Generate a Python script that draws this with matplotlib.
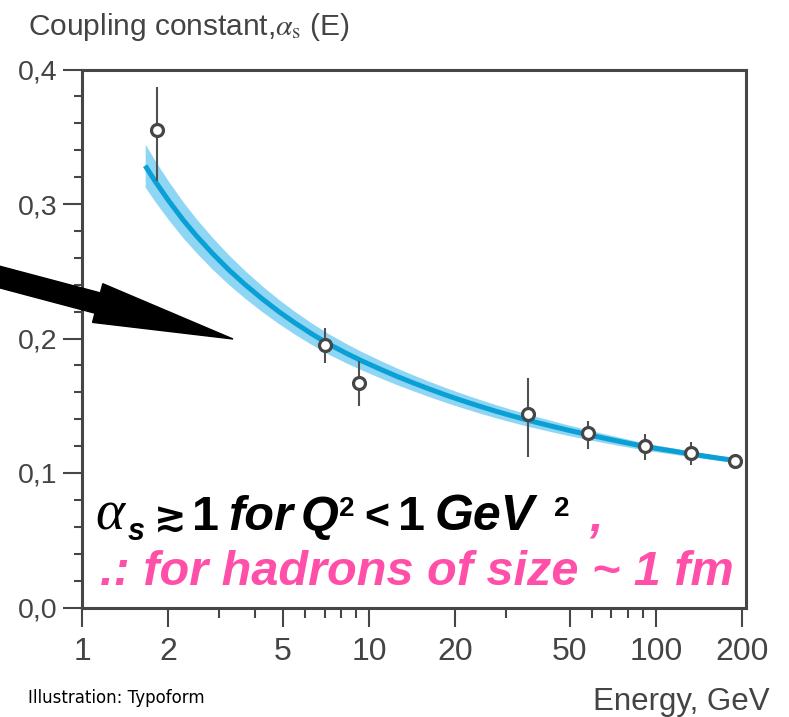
import matplotlib
matplotlib.use('Agg')
import matplotlib.pyplot as plt
from matplotlib.patches import FancyArrow
from matplotlib.ticker import FixedLocator, FuncFormatter, NullFormatter

# ---------------- data ----------------
energy_pts = [1.82, 7.05, 9.25, 35.8, 57.9, 91.9, 132.6, 189.3]
alpha_pts = [0.355, 0.195, 0.167, 0.144, 0.130, 0.120, 0.115, 0.109]
err_low = [0.038, 0.013, 0.017, 0.032, 0.012, 0.010, 0.009, 0.0]
err_high = [0.032, 0.013, 0.016, 0.027, 0.009, 0.009, 0.008, 0.0]

curve_E = [1.66, 1.8, 2.0, 2.25, 2.5, 2.85, 3.25, 3.7, 4.25, 4.85, 5.5, 6.3,
           7.25, 8.3, 9.5, 11.0, 12.5, 14.3, 16.2, 18.5, 21.0, 24.0, 27.6,
           31.5, 36.0, 42.0, 50.0, 58.0, 67.0, 77.0, 88.0, 100.0, 114.0,
           130.0, 149.0, 166.0, 185.0]
curve_alpha = [0.3285, 0.3168, 0.3027, 0.2882, 0.2765, 0.2632, 0.2510, 0.2401,
               0.2294, 0.2200, 0.2118, 0.2036, 0.1958, 0.1892, 0.1831, 0.1770,
               0.1719, 0.1669, 0.1625, 0.1580, 0.1540, 0.1500, 0.1460, 0.1425,
               0.1391, 0.1355, 0.1316, 0.1285, 0.1256, 0.1229, 0.1204, 0.1183,
               0.1164, 0.1144, 0.1125, 0.1110, 0.1096]
band_half = [0.0160, 0.0152, 0.0143, 0.0134, 0.0126, 0.0118, 0.0110, 0.0103,
             0.0096, 0.0090, 0.0085, 0.0080, 0.0076, 0.0072, 0.0068, 0.0065,
             0.0062, 0.0059, 0.0057, 0.0055, 0.0053, 0.0051, 0.0049, 0.0047,
             0.0045, 0.0042, 0.0039, 0.0036, 0.0033, 0.0030, 0.0027, 0.0025,
             0.0023, 0.0021, 0.0019, 0.0018, 0.0017]

x_ticks = [1, 2, 5, 10, 20, 50, 100, 200]
x_tick_labels = ['1', '2', '5', '10', '20', '50', '100', '200']
x_minor = [3, 4, 6, 7, 8, 9, 30, 60, 70, 80, 90]
y_ticks = [0.0, 0.1, 0.2, 0.3, 0.4]

# ---------------- style ----------------
W, H = 789, 717
GRAY = '#464646'
LABEL = '#444444'
PINK = '#ff4fa8'
BAND = '#8fd6f4'
LINE = '#0aa0d6'
SANS = ['Liberation Sans', 'DejaVu Sans']

fig = plt.figure(figsize=(W / 100, H / 100), dpi=100)
fig.patch.set_facecolor('white')
ax = fig.add_axes([82 / W, 1 - 607.5 / H, (746 - 82) / W, (607.5 - 69.5) / H])

upper = [a + h for a, h in zip(curve_alpha, band_half)]
lower = [a - h for a, h in zip(curve_alpha, band_half)]
ax.fill_between(curve_E, lower, upper, color=BAND, lw=0, zorder=1)
ax.plot(curve_E, curve_alpha, color=LINE, lw=3.6, solid_capstyle='butt',
        solid_joinstyle='round', zorder=2)

ax.errorbar(energy_pts, alpha_pts, yerr=[err_low, err_high], fmt='o',
            ms=8.6, mfc='white', mec=GRAY, mew=2.3, ecolor='#505050',
            elinewidth=1.5, capsize=0, zorder=3)

ax.set_xscale('log')
ax.set_xlim(1, 206)
ax.set_ylim(0, 0.4)

ax.xaxis.set_major_locator(FixedLocator(x_ticks))
ax.set_xticklabels(x_tick_labels)
ax.xaxis.set_minor_locator(FixedLocator(x_minor))
ax.xaxis.set_minor_formatter(NullFormatter())
ax.yaxis.set_major_locator(FixedLocator(y_ticks))
ax.yaxis.set_minor_locator(FixedLocator([i * 0.02 for i in range(21)]))
ax.yaxis.set_major_formatter(FuncFormatter(lambda v, p: f"{v:.1f}".replace('.', ',')))

for s in ax.spines.values():
    s.set_color(GRAY)
    s.set_linewidth(2.2)

ax.tick_params(axis='both', which='both', direction='out', color=GRAY,
               width=1.5, labelcolor=LABEL)
ax.tick_params(axis='x', which='major', length=14, pad=7, labelsize=23)
ax.tick_params(axis='x', which='minor', length=7)
ax.tick_params(axis='y', which='major', length=14, pad=3.5, labelsize=20.5)
ax.tick_params(axis='y', which='minor', length=6)
for lab in ax.get_xticklabels() + ax.get_yticklabels():
    lab.set_family(SANS)


def px(x, y):
    return x / W, 1 - y / H


# title / labels
fig.text(*px(28, 35), r'Coupling constant,$\alpha_{\rm s}$ (E)', family=SANS,
         fontsize=21.5, color=LABEL, va='baseline', ha='left',
         math_fontfamily='stix')
fig.text(*px(770, 710), 'Energy, GeV', family=SANS, fontsize=22.5, color=LABEL,
         va='baseline', ha='right')
fig.text(*px(28, 703), 'Illustration: Typoform', family=['DejaVu Sans'],
         fontsize=12, color='black', va='baseline', ha='left')

# big annotation, line 1 (pieces)
BI = dict(family=SANS, weight='bold', style='italic', color='black', va='baseline')
B = dict(family=SANS, weight='bold', color='black', va='baseline')
fs = 35
base1 = 530
fig.text(*px(95, base1), 'α', family=['Liberation Serif'], style='italic',
         fontsize=40, color='black', va='baseline')
fig.text(*px(128, base1 + 10), 's', fontsize=22, **BI)
fig.text(*px(154, base1), '≳', family=['DejaVu Sans'], weight='bold',
         fontsize=28, color='black', va='baseline')
fig.text(*px(192, base1), '1', fontsize=fs, **B)
fig.text(*px(228, base1), 'for', fontsize=fs, **BI)
fig.text(*px(301, base1), 'Q', fontsize=fs, **BI)
fig.text(*px(339, base1 - 14), '2', fontsize=20, **B)
fig.text(*px(364, base1), '<', fontsize=31, **B)
fig.text(*px(398, base1), '1', fontsize=fs, **B)
fig.text(*px(435, base1), 'GeV', fontsize=36, **BI)
fig.text(*px(554, base1 - 14), '2', fontsize=20, **B)
fig.text(*px(589, base1), ',', fontsize=fs, family=SANS, weight='bold',
         style='italic', color=PINK, va='baseline')

# line 2
fig.text(*px(100, 585), '.: for hadrons of size ~ 1 fm', fontsize=35,
         family=SANS, weight='bold', style='italic', color=PINK, va='baseline')

# black arrow (annotation), in inches
arrow = FancyArrow(-0.2, (H - 277) / 100 + 0.052, 2.53, -0.672, width=0.21,
                   head_width=0.40, head_length=1.40, length_includes_head=True,
                   color='black', transform=fig.dpi_scale_trans, zorder=10)
fig.patches.append(arrow)
arrow.set_figure(fig)

fig.savefig('out.png', dpi=100)
